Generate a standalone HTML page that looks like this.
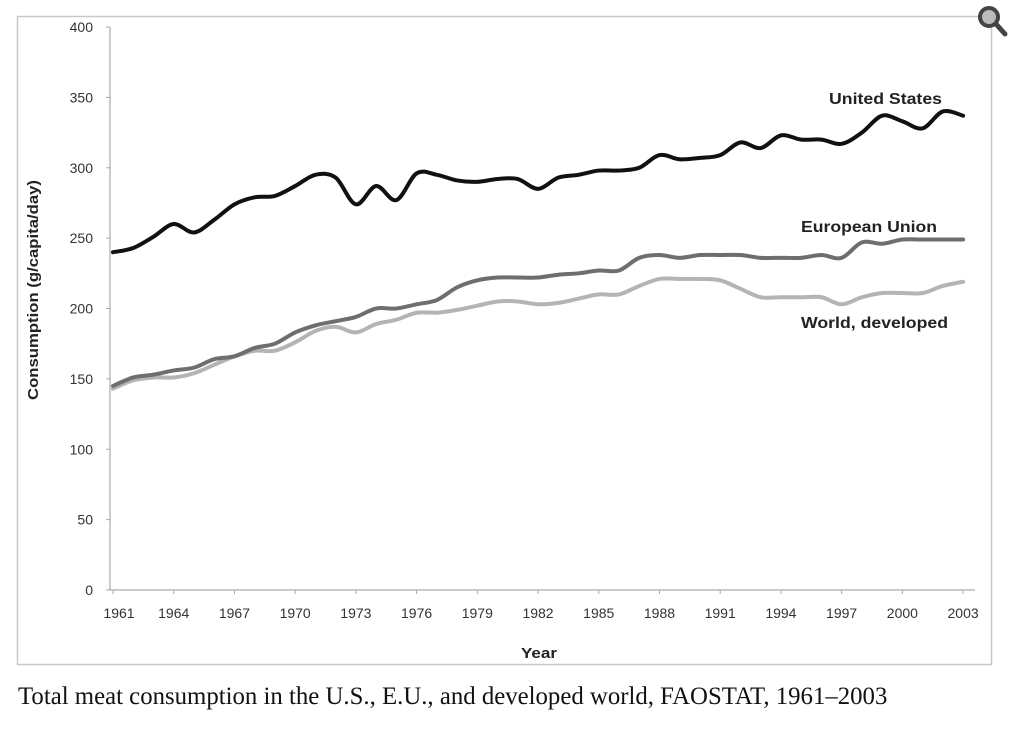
<!DOCTYPE html>
<html><head><meta charset="utf-8"><style>
body{margin:0;background:#fff;width:1024px;height:740px;overflow:hidden}
svg{position:absolute;left:0;top:0}
.cap{position:absolute;left:18px;top:683px;font-family:"Liberation Serif",serif;font-size:24.8px;color:#111;white-space:nowrap}
</style></head><body>
<svg width="1024" height="740" id="s" xmlns="http://www.w3.org/2000/svg">
<rect x="17.5" y="16.5" width="974" height="648" fill="#fff" stroke="#c8c8c8" stroke-width="1.5"/>
<g font-family="Liberation Sans, sans-serif" font-size="14" fill="#333" text-anchor="end" id="yl"></g>
<g font-family="Liberation Sans, sans-serif" font-size="14" fill="#333" text-anchor="middle" id="xl"></g>
<line x1="110" y1="27" x2="110" y2="590" stroke="#aaa" stroke-width="1.2"/>
<line x1="110" y1="590" x2="975" y2="590" stroke="#aaa" stroke-width="1.2"/>
<g id="ticks" stroke="#aaa"></g>
<text x="0" y="0" transform="translate(38,290) rotate(-90)" text-anchor="middle" font-family="Liberation Sans, sans-serif" font-weight="bold" font-size="15" fill="#222" textLength="220" lengthAdjust="spacingAndGlyphs">Consumption (g/capita/day)</text>
<text x="521" y="658" font-family="Liberation Sans, sans-serif" font-weight="bold" font-size="15" fill="#222" textLength="36" lengthAdjust="spacingAndGlyphs">Year</text>
<g fill="none" stroke-linejoin="round" stroke-linecap="round" stroke-width="4" id="lines"></g>
<g font-family="Liberation Sans, sans-serif" font-weight="bold" font-size="16" fill="#222">
<text x="829" y="104" textLength="113" lengthAdjust="spacingAndGlyphs">United States</text>
<text x="801" y="232" textLength="136" lengthAdjust="spacingAndGlyphs">European Union</text>
<text x="801" y="328" textLength="147" lengthAdjust="spacingAndGlyphs">World, developed</text>
</g>
<circle cx="989" cy="17" r="9" fill="#bbb" stroke="#444" stroke-width="4"/>
<line x1="996" y1="24" x2="1005" y2="34" stroke="#444" stroke-width="5" stroke-linecap="round"/>
</svg>
<div class="cap">Total meat consumption in the U.S., E.U., and developed world, FAOSTAT, 1961–2003</div>
<script>
const NS="http://www.w3.org/2000/svg";
const Y=v=>590-v*1.4075, X=i=>113+i*20.24;
function el(p,t,a,txt){const e=document.createElementNS(NS,t);for(const k in a)e.setAttribute(k,a[k]);if(txt!==undefined)e.textContent=txt;document.getElementById(p).appendChild(e);}
for(let v=0;v<=400;v+=50){el('yl','text',{x:93,y:Y(v)+5},v);el('ticks','line',{x1:106,x2:110,y1:Y(v),y2:Y(v)});}
for(let i=0;i<=42;i+=3){const yr=1961+i;el('xl','text',{x:X(i)+(yr==1961?6:0),y:618},yr);el('ticks','line',{x1:X(i),x2:X(i),y1:590,y2:594});}
const us=[240,243,251,260,254,263,274,279,280,287,295,293,274,287,277,296,295,291,290,292,292,285,293,295,298,298,300,309,306,307,309,318,314,323,320,320,317,325,337,333,328,340,337];
const eu=[145,151,153,156,158,164,166,172,175,183,188,191,194,200,200,203,206,215,220,222,222,222,224,225,227,227,236,238,236,238,238,238,236,236,236,238,236,247,246,249,249,249,249];
const wd=[143,149,151,151,154,160,166,170,170,176,184,187,183,189,192,197,197,199,202,205,205,203,204,207,210,210,216,221,221,221,220,214,208,208,208,208,203,208,211,211,211,216,219];
function path(d){const P=d.map((v,i)=>[X(i),Y(v)]);let s='M'+P[0];for(let i=0;i<P.length-1;i++){const p0=P[Math.max(i-1,0)],p1=P[i],p2=P[i+1],p3=P[Math.min(i+2,P.length-1)];const c1=[p1[0]+(p2[0]-p0[0])/6,p1[1]+(p2[1]-p0[1])/6],c2=[p2[0]-(p3[0]-p1[0])/6,p2[1]-(p3[1]-p1[1])/6];s+=` C${c1} ${c2} ${p2}`;}return s;}
el('lines','path',{d:path(wd),stroke:'#b4b4b4'});
el('lines','path',{d:path(eu),stroke:'#6e6e6e'});
el('lines','path',{d:path(us),stroke:'#111'});
</script>
</body></html>
